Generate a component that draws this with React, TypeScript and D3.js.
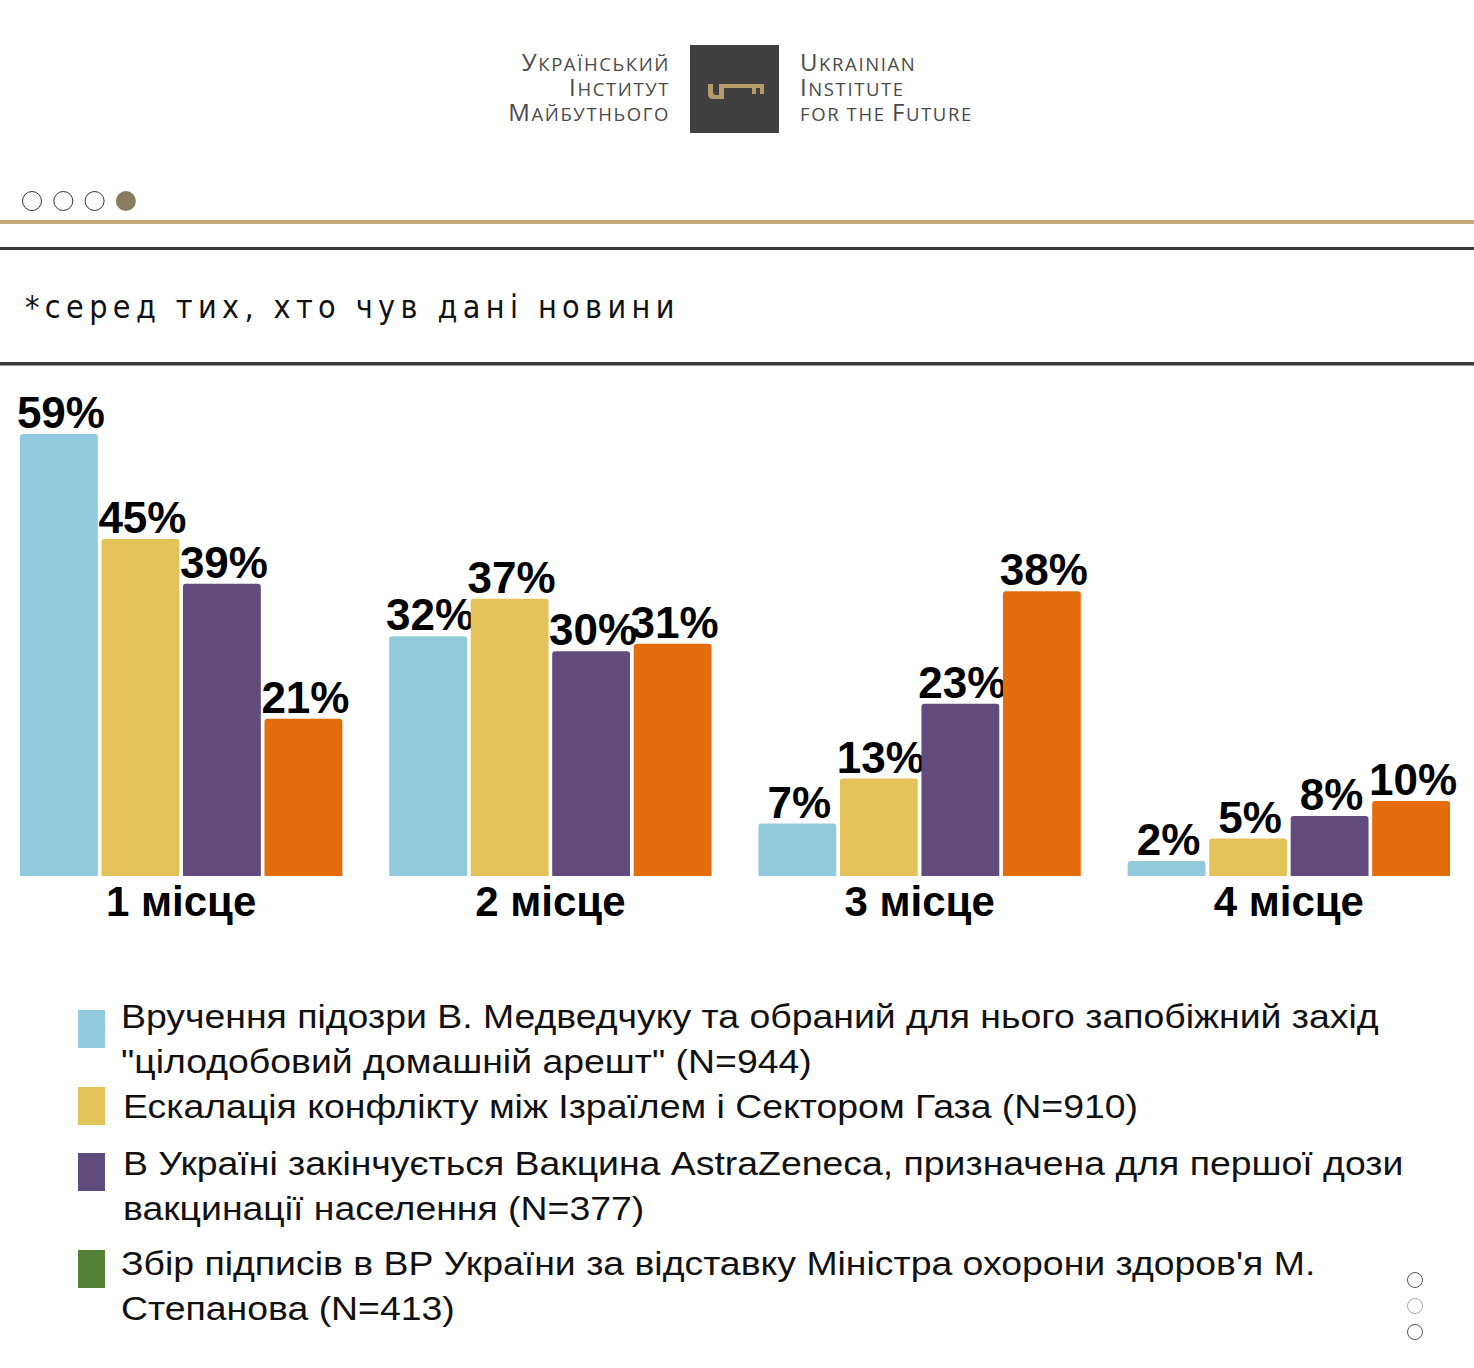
import React from 'react';
import * as d3 from 'd3';

// categories (rank places) and the four news series, values in %
const places = ['1 місце', '2 місце', '3 місце', '4 місце'];
const medvedchuk = [59, 32, 7, 2];
const israel = [45, 37, 13, 5];
const astraZeneca = [39, 30, 23, 8];
const stepanov = [21, 31, 38, 10];

const seriesKeys = ['medvedchuk', 'israel', 'astra', 'stepanov'];
const seriesValues = [medvedchuk, israel, astraZeneca, stepanov];
const seriesColors = ['#92cadd', '#e3c25a', '#614b7d', '#e36c0c'];

// legend (the last swatch is green in the original)
const legendColors = ['#92cadd', '#e3c25a', '#614b7d', '#538135'];
const legendLines = [
  ['Вручення підозри В. Медведчуку та обраний для нього запобіжний захід', '"цілодобовий домашній арешт" (N=944)'],
  ['Ескалація конфлікту між Ізраїлем і Сектором Газа (N=910)'],
  ['В Україні закінчується Вакцина AstraZeneca, призначена для першої дози', 'вакцинації населення (N=377)'],
  ['Збір підписів в ВР України за відставку Міністра охорони здоров\'я М.', 'Степанова (N=413)'],
];

const logoLeft = ['Український', 'Інститут', 'Майбутнього'];
const logoRight = ['Ukrainian', 'Institute', 'for the Future'];

const W = 1474;
const H = 1368;

function topRounded(x: number, y: number, w: number, h: number, r: number) {
  const rr = Math.min(r, h / 2, w / 2);
  return `M${x},${y + h} V${y + rr} Q${x},${y} ${x + rr},${y} H${x + w - rr} Q${x + w},${y} ${x + w},${y + rr} V${y + h} Z`;
}

function SmallCaps({ text, x, y, anchor }: { text: string; x: number; y: number; anchor: 'start' | 'end' }) {
  return (
    <text x={x} y={y} textAnchor={anchor} fill="#4a4a4a" fontFamily="'Open Sans', sans-serif" letterSpacing={1.6}>
      {text.split('').map((ch, i) => {
        const big = ch !== ch.toLowerCase();
        return (
          <tspan key={i} fontSize={big ? 24 : 18.5}>
            {ch.toUpperCase()}
          </tspan>
        );
      })}
    </text>
  );
}

export default function App() {
  const baseY = 876;
  const y = d3.scaleLinear().domain([0, 59]).range([baseY, 434]);

  const x0 = d3.scaleBand<string>().domain(places).range([20, 1450]).paddingInner(0.127).paddingOuter(0);
  const x1 = d3.scaleBand<string>().domain(seriesKeys).range([0, x0.bandwidth()]).paddingInner(0.045);

  const legendTop = [1010, 1087, 1153, 1250];
  const legendBase = [1028, 1118, 1175, 1275];

  return (
    <div style={{ position: 'absolute', left: 0, top: 0, width: W, height: H, background: '#fff' }}>
      <svg width={W} height={H} style={{ display: 'block' }}>
        {/* logo */}
        {logoLeft.map((t, i) => (
          <SmallCaps key={t} text={t} x={670} y={71 + i * 25} anchor="end" />
        ))}
        <rect x={690} y={45} width={89} height={88} fill="#404040" />
        <g fill="#b59a6a">
          <path d="M708,84 h5 v8 q0,3 3,3 h3 v-11 h5 v15 h-11 q-5,0 -5,-5 z" />
          <rect x={722} y={84} width={42} height={4} />
          <rect x={752} y={84} width={4} height={10} />
          <rect x={760} y={84} width={4} height={10} />
        </g>
        {logoRight.map((t, i) => (
          <SmallCaps key={t} text={t} x={800} y={71 + i * 25} anchor="start" />
        ))}

        {/* slide dots */}
        {[0, 1, 2, 3].map(i => (
          <circle
            key={i}
            cx={32 + i * 31.3}
            cy={201}
            r={i === 3 ? 10 : 9.5}
            fill={i === 3 ? '#8a7a5e' : '#fff'}
            stroke={i === 3 ? 'none' : '#333'}
            strokeWidth={1}
          />
        ))}

        {/* separators */}
        <rect x={0} y={220} width={W} height={4} fill="#c4a97a" />
        <rect x={0} y={247} width={W} height={3} fill="#3a3a3a" />
        <text
          x={25}
          y={318}
          fontSize={32}
          fontFamily="'Liberation Sans Narrow', 'DejaVu Sans Condensed', sans-serif"
          letterSpacing={3.5}
          fill="#111"
          textLength={653}
          lengthAdjust="spacing"
        >
          *серед тих, хто чув дані новини
        </text>
        <rect x={0} y={362} width={W} height={3.5} fill="#3a3a3a" />

        {/* bars */}
        {places.map((p, pi) => (
          <g key={p} transform={`translate(${x0(p)},0)`}>
            {seriesKeys.map((k, si) => {
              const v = seriesValues[si][pi];
              const bx = x1(k) || 0;
              const by = y(v);
              return (
                <g key={k}>
                  <path d={topRounded(bx, by, x1.bandwidth(), baseY - by, 3)} fill={seriesColors[si]} />
                  <text
                    x={bx + x1.bandwidth() / 2 + 2}
                    y={by - 6}
                    textAnchor="middle"
                    fontSize={44}
                    fontWeight="bold"
                    fontFamily="'Liberation Sans', Arial, sans-serif"
                    fill="#000"
                  >
                    {v}%
                  </text>
                </g>
              );
            })}
            <text
              x={x0.bandwidth() / 2}
              y={916}
              textAnchor="middle"
              fontSize={42}
              fontWeight="bold"
              fontFamily="'Liberation Sans', Arial, sans-serif"
              fill="#000"
            >
              {p}
            </text>
          </g>
        ))}

        {/* legend */}
        {legendTop.map((ly, i) => (
          <g key={i}>
            <rect x={78} y={ly} width={27} height={38} fill={legendColors[i]} />
            {legendLines[i].map((line, li) => {
              const tx = i === 0 || i === 3 ? 121 : 123;
              const ty = legendBase[i] + li * 45;
              return (
                <text
                  key={li}
                  transform={`translate(${tx},${ty}) scale(1.1,1)`}
                  fontSize={34}
                  fontFamily="'Liberation Sans', Arial, sans-serif"
                  fill="#111"
                >
                  {line}
                </text>
              );
            })}
          </g>
        ))}

        {/* vertical nav dots */}
        {[1280, 1306, 1332].map((cy, i) => (
          <circle key={cy} cx={1415} cy={cy} r={7.5} fill="#fff" stroke={i === 1 ? '#aaa' : '#555'} strokeWidth={1} />
        ))}
      </svg>
    </div>
  );
}
